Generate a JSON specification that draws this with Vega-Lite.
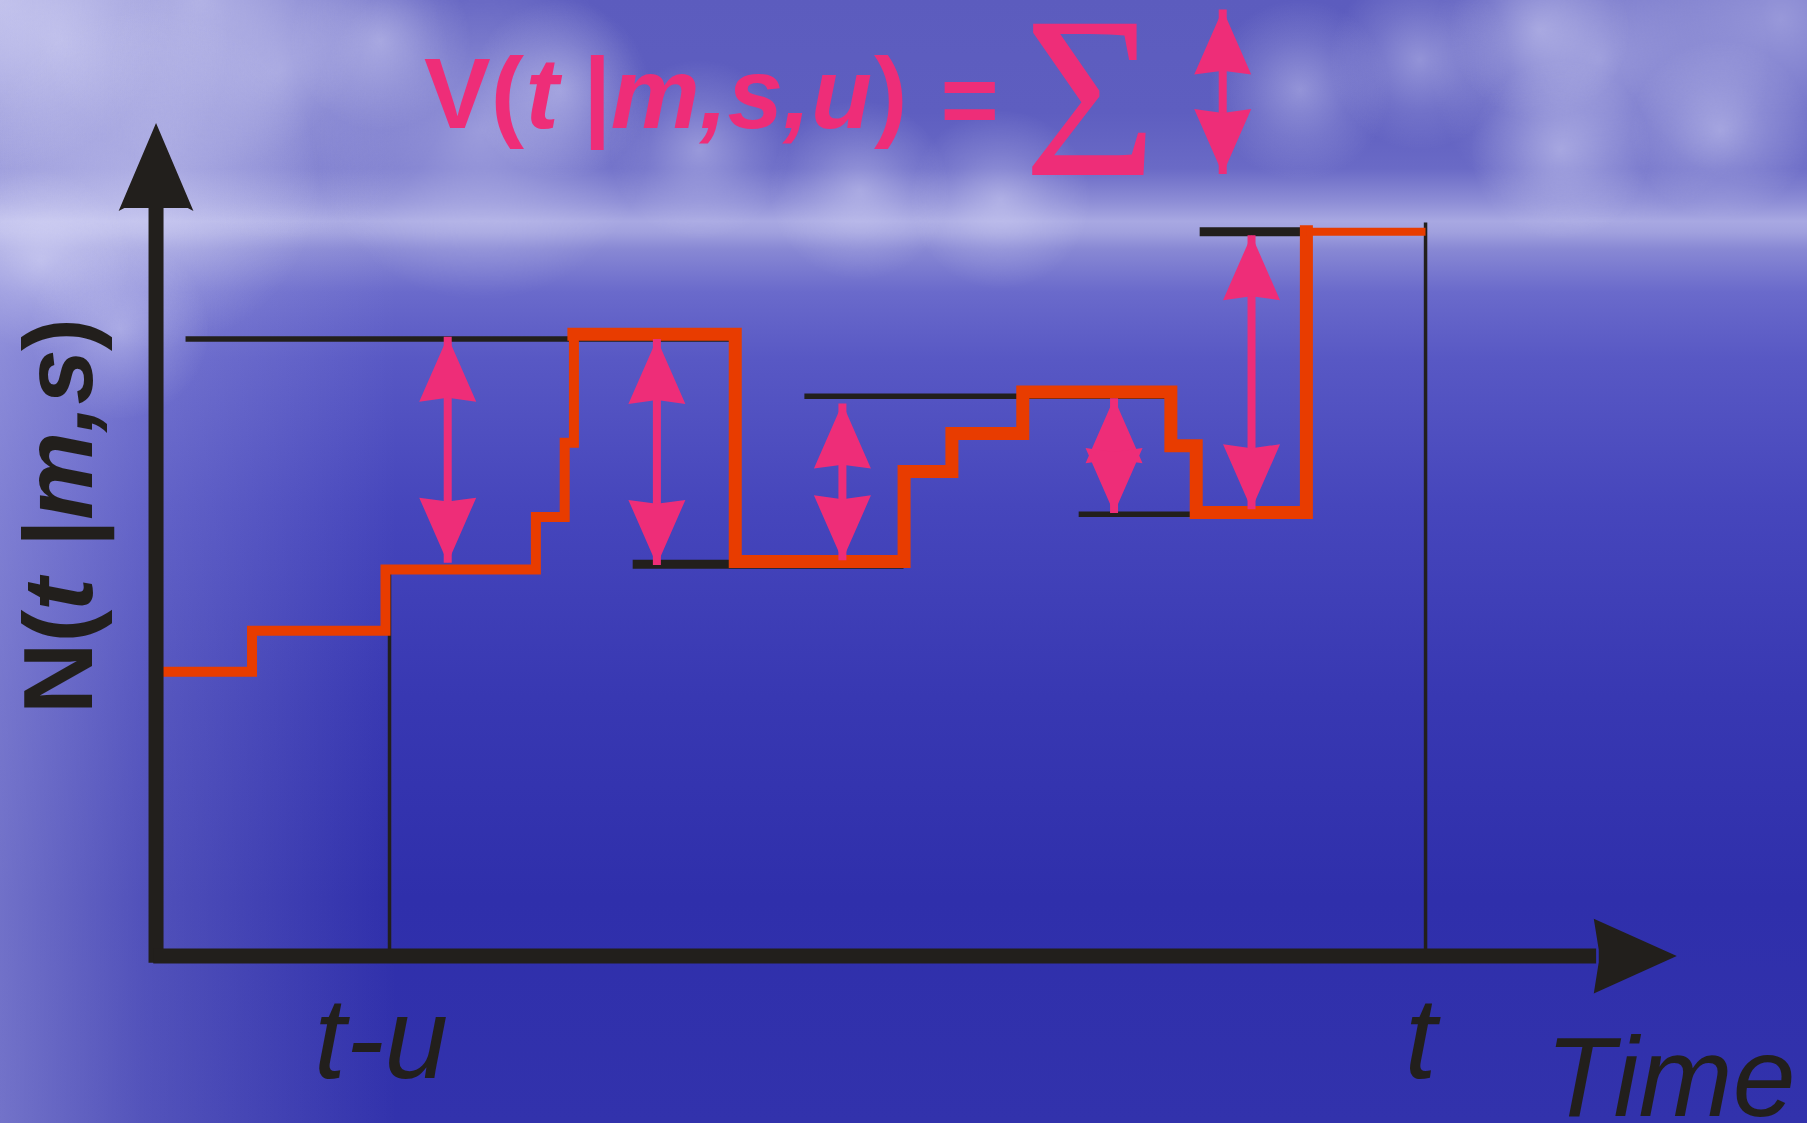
{
  "$schema": "https://vega.github.io/schema/vega-lite/v6.json",
  "width": 1807,
  "height": 1123,
  "autosize": {"type": "none"},
  "padding": 0,
  "config": {"view": {"stroke": null}},
  "datasets": {
    "frame": [{"t": 0, "t2": 156.8, "n": 0, "n2": 97.4}],
    "cloudsLarge": [
      {"t": 0, "n": 97.4}, {"t": 17.4, "n": 97.4},
      {"t": 5.2, "n": 93.9}, {"t": 24.3, "n": 91.3}, {"t": 13.0, "n": 81.8},
      {"t": 41.7, "n": 86.1}, {"t": 138.8, "n": 92.2}, {"t": 154.5, "n": 95.7}
    ],
    "cloudsSmall": [
      {"t": 33.0, "n": 93.9}, {"t": 48.6, "n": 89.6}, {"t": 60.7, "n": 84.4},
      {"t": 74.6, "n": 80.9}, {"t": 112.8, "n": 89.6}, {"t": 123.2, "n": 92.2},
      {"t": 133.6, "n": 94.8}, {"t": 135.4, "n": 84.4}, {"t": 149.3, "n": 86.1},
      {"t": 86.8, "n": 80.1}, {"t": 3.5, "n": 74.8}, {"t": 10.4, "n": 68.8}
    ],
    "steps1": [
      {"t": 13.5, "n": 39.13}, {"t": 21.87, "n": 42.7}, {"t": 33.45, "n": 48.0},
      {"t": 46.5, "n": 52.55}, {"t": 49.0, "n": 59.0}, {"t": 49.8, "n": 68.4}
    ],
    "steps2": [
      {"t": 49.8, "n": 68.4}, {"t": 63.8, "n": 48.7}, {"t": 78.45, "n": 56.5},
      {"t": 82.6, "n": 59.8}, {"t": 88.75, "n": 63.4}, {"t": 101.6, "n": 58.75},
      {"t": 103.8, "n": 52.94}, {"t": 113.36, "n": 77.3}
    ],
    "steps3": [{"t": 113.36, "n": 77.3}, {"t": 123.7, "n": 77.3}],
    "levelsThin": [
      {"t": 16.1, "t2": 63.8, "n": 68.0},
      {"t": 69.8, "t2": 101.6, "n": 63.03},
      {"t": 93.6, "t2": 113.3, "n": 52.8}
    ],
    "levelsThick": [
      {"t": 54.9, "t2": 78.4, "n": 48.46},
      {"t": 104.1, "t2": 113.3, "n": 77.31}
    ],
    "marks": [
      {"t": 33.8, "n": 48.0, "n2": 14.48},
      {"t": 123.7, "n": 78.1, "n2": 14.48}
    ],
    "arrows": [
      {"t": 38.85, "top": 68.2, "bot": 48.6},
      {"t": 57.0, "top": 68.0, "bot": 48.4},
      {"t": 73.1, "top": 62.4, "bot": 48.8},
      {"t": 96.67, "top": 62.86, "bot": 52.9},
      {"t": 108.6, "top": 77.0, "bot": 53.23},
      {"t": 106.1, "top": 96.57, "bot": 82.3}
    ],
    "formulaPlain": [
      {"t": 36.8, "n": 86.3, "label": "V("},
      {"t": 50.6, "n": 86.3, "label": "|"},
      {"t": 75.84, "n": 86.3, "label": ")"},
      {"t": 81.6, "n": 85.8, "label": "="}
    ],
    "formulaItalic": [
      {"t": 45.6, "n": 86.3, "label": "t"},
      {"t": 53.0, "n": 86.3, "label": "m,s,u"}
    ],
    "sigma": [{"t": 94.6, "n": 82.2, "label": "Σ"}],
    "ytitlePlain": [
      {"t": 7.96, "n": 35.48, "label": "N("},
      {"t": 7.96, "n": 49.96, "label": "|"},
      {"t": 7.96, "n": 66.96, "label": ")"}
    ],
    "ytitleItalic": [
      {"t": 7.96, "n": 44.4, "label": "t"},
      {"t": 7.96, "n": 52.3, "label": "m,s"}
    ],
    "ticksText": [
      {"t": 27.25, "n": 3.94, "label": "t-u"},
      {"t": 121.9, "n": 3.94, "label": "t"}
    ],
    "xtitle": [{"t": 134.1, "n": 0.6, "label": "Time"}],
    "yaxis": [{"t": 13.54, "n": 13.9, "n2": 80.0}],
    "yarrow": [{"t": 13.54, "n": 86.73}],
    "xaxis": [{"t": 13.3, "t2": 138.5, "n": 14.48}],
    "xarrow": [{"t": 145.5, "n": 14.48}]
  },
  "encoding": {
    "x": {"field": "t", "type": "quantitative", "scale": {"domain": [0, 156.8], "nice": false, "zero": false}, "axis": null},
    "y": {"field": "n", "type": "quantitative", "scale": {"domain": [0, 97.4], "nice": false, "zero": false}, "axis": null}
  },
  "layer": [
    {
      "data": {"name": "frame"},
      "mark": {"type": "rect", "color": {"gradient": "linear", "x1": 0, "y1": 0, "x2": 0, "y2": 1, "stops": [
        {"offset": 0, "color": "#5c5cbe"},
        {"offset": 0.1, "color": "#5e5ec0"},
        {"offset": 0.15, "color": "#6a6ac6"},
        {"offset": 0.18, "color": "#8e8ed6"},
        {"offset": 0.197, "color": "#a8a8e2"},
        {"offset": 0.207, "color": "#a0a0de"},
        {"offset": 0.222, "color": "#8888d4"},
        {"offset": 0.26, "color": "#6a6acb"},
        {"offset": 0.32, "color": "#5858c4"},
        {"offset": 0.45, "color": "#4646bc"},
        {"offset": 0.62, "color": "#3838b2"},
        {"offset": 0.8, "color": "#2f2fab"},
        {"offset": 1, "color": "#3232ac"}
      ]}},
      "encoding": {"x2": {"field": "t2"}, "y2": {"field": "n2"}}
    },
    {
      "data": {"name": "frame"},
      "mark": {"type": "rect", "color": {"gradient": "linear", "x1": 0, "y1": 0, "x2": 1, "y2": 0, "stops": [
        {"offset": 0, "color": "rgba(235,235,255,0.35)"},
        {"offset": 0.08, "color": "rgba(235,235,255,0.18)"},
        {"offset": 0.22, "color": "rgba(235,235,255,0)"},
        {"offset": 1, "color": "rgba(235,235,255,0)"}
      ]}},
      "encoding": {"x2": {"field": "t2"}, "y2": {"field": "n2"}}
    },
    {
      "data": {"name": "cloudsLarge"},
      "mark": {"type": "point", "shape": "square", "size": 115600, "filled": true, "opacity": 1, "strokeWidth": 0, "fill": {"gradient": "radial", "x1": 0.5, "y1": 0.5, "r1": 0, "x2": 0.5, "y2": 0.5, "r2": 0.5, "stops": [
        {"offset": 0, "color": "rgba(235,235,255,0.42)"},
        {"offset": 0.55, "color": "rgba(235,235,255,0.18)"},
        {"offset": 1, "color": "rgba(235,235,255,0)"}
      ]}},
      "encoding": {}
    },
    {
      "data": {"name": "cloudsSmall"},
      "mark": {"type": "point", "shape": "square", "size": 32400, "filled": true, "opacity": 1, "strokeWidth": 0, "fill": {"gradient": "radial", "x1": 0.5, "y1": 0.5, "r1": 0, "x2": 0.5, "y2": 0.5, "r2": 0.5, "stops": [
        {"offset": 0, "color": "rgba(235,235,255,0.38)"},
        {"offset": 0.55, "color": "rgba(235,235,255,0.15)"},
        {"offset": 1, "color": "rgba(235,235,255,0)"}
      ]}},
      "encoding": {}
    },
    {
      "data": {"name": "levelsThin"},
      "mark": {"type": "rule", "color": "#221f1c", "strokeWidth": 5.5},
      "encoding": {"x2": {"field": "t2"}}
    },
    {
      "data": {"name": "levelsThick"},
      "mark": {"type": "rule", "color": "#221f1c", "strokeWidth": 9},
      "encoding": {"x2": {"field": "t2"}}
    },
    {
      "data": {"name": "marks"},
      "mark": {"type": "rule", "color": "#221f1c", "strokeWidth": 3.5},
      "encoding": {"y2": {"field": "n2"}}
    },
    {
      "data": {"name": "steps1"},
      "mark": {"type": "line", "interpolate": "step-after", "color": "#e83c00", "strokeWidth": 10, "strokeCap": "square", "strokeJoin": "miter"},
      "encoding": {}
    },
    {
      "data": {"name": "steps2"},
      "mark": {"type": "line", "interpolate": "step-after", "color": "#e83c00", "strokeWidth": 13, "strokeCap": "square", "strokeJoin": "miter"},
      "encoding": {}
    },
    {
      "data": {"name": "steps3"},
      "mark": {"type": "line", "interpolate": "step-after", "color": "#e83c00", "strokeWidth": 8, "strokeCap": "butt", "strokeJoin": "miter"},
      "encoding": {}
    },
    {
      "data": {"name": "arrows"},
      "mark": {"type": "rule", "color": "#ee2d78", "strokeWidth": 8},
      "encoding": {"y": {"field": "top", "type": "quantitative"}, "y2": {"field": "bot"}}
    },
    {
      "data": {"name": "arrows"},
      "mark": {"type": "point", "shape": "M0,-1L0.877,1L0,0.88L-0.877,1Z", "size": 4225, "filled": true, "opacity": 1, "strokeWidth": 0, "color": "#ee2d78", "yOffset": 32.5},
      "encoding": {"y": {"field": "top", "type": "quantitative"}}
    },
    {
      "data": {"name": "arrows"},
      "mark": {"type": "point", "shape": "M0,1L0.877,-1L0,-0.88L-0.877,-1Z", "size": 4225, "filled": true, "opacity": 1, "strokeWidth": 0, "color": "#ee2d78", "yOffset": -32.5},
      "encoding": {"y": {"field": "bot", "type": "quantitative"}}
    },
    {
      "data": {"name": "yaxis"},
      "mark": {"type": "rule", "color": "#221f1c", "strokeWidth": 15},
      "encoding": {"y2": {"field": "n2"}}
    },
    {
      "data": {"name": "yarrow"},
      "mark": {"type": "point", "shape": "M0,-1L0.85,1L0.72,0.93L-0.72,0.93L-0.85,1Z", "size": 7744, "filled": true, "opacity": 1, "strokeWidth": 0, "color": "#221f1c", "yOffset": 44},
      "encoding": {}
    },
    {
      "data": {"name": "xaxis"},
      "mark": {"type": "rule", "color": "#221f1c", "strokeWidth": 15},
      "encoding": {"x2": {"field": "t2"}}
    },
    {
      "data": {"name": "xarrow"},
      "mark": {"type": "point", "shape": "M1,0L-1,-0.9L-0.88,-0.15L-0.88,0.15L-1,0.9Z", "size": 6889, "filled": true, "opacity": 1, "strokeWidth": 0, "color": "#221f1c", "xOffset": -41.5},
      "encoding": {}
    },
    {
      "data": {"name": "formulaPlain"},
      "mark": {"type": "text", "font": "Liberation Sans", "fontWeight": "bold", "fontSize": 100, "align": "left", "baseline": "alphabetic", "color": "#ee2d78"},
      "encoding": {"text": {"field": "label"}}
    },
    {
      "data": {"name": "formulaItalic"},
      "mark": {"type": "text", "font": "Liberation Sans", "fontWeight": "bold", "fontStyle": "italic", "fontSize": 100, "align": "left", "baseline": "alphabetic", "color": "#ee2d78"},
      "encoding": {"text": {"field": "label"}}
    },
    {
      "data": {"name": "sigma"},
      "mark": {"type": "text", "font": "Liberation Serif", "fontSize": 230, "align": "center", "baseline": "alphabetic", "color": "#ee2d78"},
      "encoding": {"text": {"field": "label"}}
    },
    {
      "data": {"name": "ytitlePlain"},
      "mark": {"type": "text", "font": "Liberation Sans", "fontWeight": "bold", "fontSize": 99, "align": "left", "baseline": "alphabetic", "angle": 270, "color": "#221f1c"},
      "encoding": {"text": {"field": "label"}}
    },
    {
      "data": {"name": "ytitleItalic"},
      "mark": {"type": "text", "font": "Liberation Sans", "fontWeight": "bold", "fontStyle": "italic", "fontSize": 99, "align": "left", "baseline": "alphabetic", "angle": 270, "color": "#221f1c"},
      "encoding": {"text": {"field": "label"}}
    },
    {
      "data": {"name": "ticksText"},
      "mark": {"type": "text", "font": "Liberation Sans", "fontStyle": "italic", "fontSize": 115, "align": "left", "baseline": "alphabetic", "color": "#221f1c"},
      "encoding": {"text": {"field": "label"}}
    },
    {
      "data": {"name": "xtitle"},
      "mark": {"type": "text", "font": "Liberation Sans", "fontStyle": "italic", "fontSize": 113, "align": "left", "baseline": "alphabetic", "color": "#221f1c"},
      "encoding": {"text": {"field": "label"}}
    }
  ]
}
